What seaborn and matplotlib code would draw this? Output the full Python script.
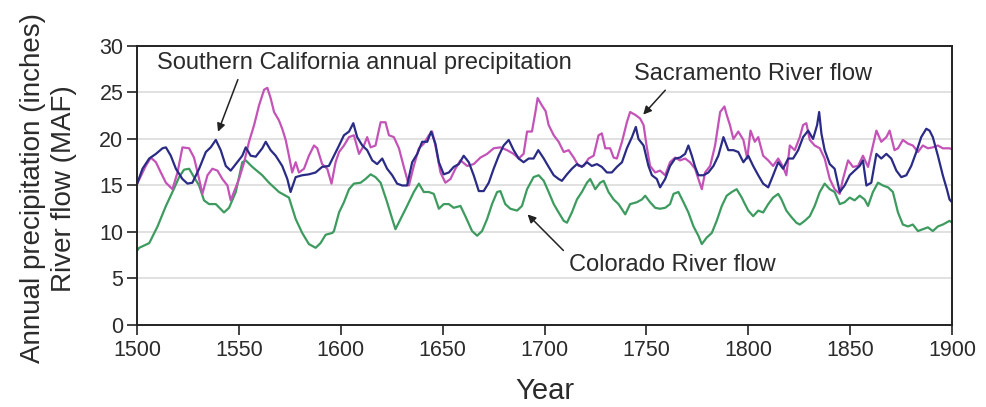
import matplotlib
matplotlib.use("Agg")
import matplotlib.pyplot as plt
import seaborn as sns
import pandas as pd

# Southern California annual precipitation (inches)
socal_years = [1500, 1502.6, 1505.9, 1509.2, 1512.4, 1514.1, 1516.5, 1519.0, 1522.2, 1524.7,
               1527.1, 1530.4, 1533.7, 1536.1, 1538.6, 1541.0, 1543.5, 1545.9, 1548.4, 1551.6,
               1553.3, 1555.7, 1558.2, 1561.4, 1563.1, 1565.5, 1568.0, 1571.2, 1573.7, 1575.3,
               1577.8, 1581.0, 1584.3, 1587.6, 1590.8, 1594.1, 1596.6, 1599.1, 1601.5, 1604.0,
               1606.1, 1608.0, 1610.5, 1612.9, 1615.4, 1617.8, 1620.3, 1622.7, 1625.2, 1627.6,
               1630.1, 1632.5, 1635.0, 1637.5, 1639.9, 1642.4, 1644.3, 1646.4, 1648.1, 1650.5,
               1653.0, 1655.4, 1657.9, 1660.3, 1662.8, 1665.2, 1667.7, 1670.1, 1672.6, 1675.0,
               1677.5, 1679.9, 1682.4, 1684.8, 1687.3, 1689.7, 1692.2, 1694.6, 1696.9, 1699.6,
               1702.0, 1704.5, 1706.9, 1708.5, 1711.0, 1713.4, 1715.9, 1718.3, 1720.8, 1723.2,
               1725.7, 1728.1, 1730.6, 1733.0, 1735.5, 1738.0, 1740.4, 1742.9, 1744.8, 1746.1,
               1748.6, 1751.0, 1752.7, 1755.1, 1756.7, 1759.2, 1761.6, 1764.1, 1766.5, 1769.0,
               1770.6, 1772.3, 1773.9, 1775.5, 1778.0, 1780.4, 1782.9, 1785.3, 1787.8, 1790.2,
               1792.7, 1795.1, 1797.6, 1800.0, 1802.4, 1804.9, 1807.3, 1809.8, 1812.2, 1814.7,
               1817.1, 1819.6, 1822.0, 1824.5, 1826.9, 1829.4, 1831.8, 1833.8, 1834.8, 1835.9,
               1837.5, 1840.0, 1842.4, 1844.9, 1847.3, 1849.8, 1852.2, 1854.7, 1856.3, 1858.0,
               1860.4, 1862.9, 1865.3, 1867.8, 1870.2, 1872.7, 1875.1, 1877.6, 1880.0, 1882.5,
               1884.9, 1887.4, 1889.0, 1890.6, 1893.1, 1895.5, 1897.5, 1898.8, 1900]
socal_vals = [15.2, 16.8, 17.9, 18.4, 19.0, 19.1, 18.2, 16.8, 15.7, 15.2,
              15.3, 16.8, 18.6, 19.1, 19.9, 18.8, 17.1, 16.6, 17.3, 18.2,
              19.1, 18.2, 18.1, 19.0, 19.7, 18.8, 18.2, 17.1, 15.7, 14.3,
              15.9, 16.1, 16.2, 16.4, 17.0, 17.1, 18.2, 19.3, 20.4, 20.8,
              21.7, 20.2, 19.3, 18.8, 17.7, 17.3, 17.9, 16.8, 16.1, 15.2,
              15.0, 15.0, 17.5, 18.4, 19.7, 19.7, 20.8, 19.5, 17.5, 16.2,
              16.4, 17.0, 17.3, 18.2, 17.5, 16.1, 14.4, 14.4, 15.3, 16.8,
              18.2, 19.3, 19.9, 18.8, 17.9, 17.5, 17.9, 17.9, 18.8, 17.9,
              17.0, 16.1, 15.7, 15.5, 16.2, 16.8, 17.3, 17.0, 17.5, 17.1,
              17.3, 17.0, 16.4, 16.4, 17.0, 17.5, 19.0, 20.2, 21.3, 20.0,
              19.3, 17.1, 16.1, 15.7, 14.8, 15.7, 17.1, 17.9, 18.0, 18.4,
              19.3, 18.2, 17.0, 16.1, 16.1, 16.4, 17.1, 18.2, 20.2, 18.8,
              18.8, 18.6, 17.5, 18.2, 17.1, 16.1, 15.2, 14.8, 16.1, 17.5,
              16.8, 17.9, 17.9, 18.8, 20.2, 20.9, 20.0, 21.5, 22.9, 20.6,
              18.8, 17.3, 16.8, 14.3, 15.0, 16.1, 16.6, 17.1, 17.7, 15.0,
              15.3, 18.4, 17.9, 18.4, 17.9, 16.6, 15.9, 16.1, 17.1, 18.6,
              20.2, 21.1, 20.9, 20.2, 18.2, 16.1, 14.6, 13.5, 13.2]

# Sacramento River flow (MAF)
sac_years = [1500, 1504.2, 1506.7, 1509.2, 1511.6, 1514.1, 1517.3, 1519.8, 1522.2, 1525.5,
             1527.9, 1530.4, 1532.0, 1534.5, 1536.9, 1539.4, 1541.8, 1544.3, 1545.9, 1547.5,
             1550.0, 1552.5, 1554.9, 1557.4, 1559.8, 1562.3, 1563.9, 1565.5, 1567.2, 1569.6,
             1571.2, 1572.9, 1574.5, 1576.1, 1577.8, 1579.4, 1581.9, 1584.3, 1586.8, 1588.4,
             1590.8, 1593.3, 1595.4, 1597.4, 1599.1, 1601.5, 1604.0, 1606.4, 1608.9, 1611.3,
             1612.9, 1614.6, 1617.0, 1619.5, 1621.9, 1623.6, 1626.0, 1628.5, 1630.9, 1633.4,
             1635.8, 1638.3, 1640.7, 1643.2, 1644.8, 1646.4, 1648.9, 1651.3, 1653.8, 1656.2,
             1658.7, 1662.0, 1665.2, 1668.5, 1671.8, 1675.0, 1678.3, 1681.6, 1684.8, 1687.3,
             1689.7, 1691.4, 1693.8, 1695.5, 1696.6, 1698.7, 1700.5, 1702.0, 1704.5, 1706.9,
             1709.4, 1711.8, 1714.3, 1716.7, 1719.2, 1721.6, 1724.1, 1726.5, 1728.1, 1729.8,
             1732.2, 1733.9, 1735.5, 1738.0, 1740.4, 1742.0, 1744.5, 1746.9, 1748.6, 1750.2,
             1751.8, 1754.3, 1756.7, 1759.2, 1761.6, 1764.1, 1766.5, 1769.0, 1771.4, 1773.9,
             1775.5, 1777.2, 1778.8, 1781.3, 1783.7, 1786.2, 1788.3, 1789.4, 1791.0, 1792.7,
             1795.1, 1797.6, 1799.5, 1801.1, 1803.2, 1804.9, 1807.3, 1809.8, 1812.2, 1814.7,
             1817.1, 1818.7, 1820.4, 1822.8, 1825.3, 1826.9, 1828.5, 1830.2, 1832.6, 1835.1,
             1837.5, 1840.0, 1842.4, 1844.9, 1846.5, 1849.0, 1851.4, 1853.9, 1856.3, 1858.8,
             1861.2, 1862.9, 1865.3, 1867.8, 1869.4, 1871.8, 1873.5, 1875.9, 1878.4, 1880.8,
             1883.3, 1885.7, 1888.2, 1890.6, 1893.1, 1895.5, 1898.8, 1900]
sac_vals = [15.2, 17.1, 18.0, 17.5, 16.4, 15.3, 14.6, 16.4, 19.1, 19.0,
            18.0, 15.7, 14.1, 16.1, 16.8, 16.6, 15.7, 15.0, 13.4, 14.3,
            15.7, 17.5, 19.7, 21.5, 23.6, 25.3, 25.5, 24.4, 22.9, 22.0,
            21.1, 19.9, 18.2, 16.4, 17.5, 16.4, 16.8, 18.2, 19.3, 19.0,
            17.3, 16.8, 15.2, 17.5, 18.6, 19.3, 20.2, 20.4, 18.4, 19.3,
            20.2, 19.1, 19.3, 21.8, 21.8, 20.4, 20.2, 19.0, 17.0, 15.0,
            17.1, 19.0, 19.5, 20.4, 20.8, 19.3, 16.4, 15.3, 15.7, 16.8,
            17.7, 17.1, 17.3, 18.0, 18.4, 19.0, 19.1, 18.8, 18.4, 17.9,
            18.4, 20.8, 20.8, 22.9, 24.4, 23.6, 23.0, 21.5, 20.4, 19.7,
            18.6, 18.8, 18.0, 17.1, 17.1, 17.9, 18.2, 20.4, 20.6, 19.0,
            19.0, 18.0, 17.9, 19.7, 21.8, 22.9, 22.6, 22.2, 21.5, 19.1,
            17.1, 16.4, 16.6, 16.1, 17.5, 18.0, 17.7, 17.9, 17.5, 16.8,
            15.7, 14.6, 16.4, 17.1, 19.3, 22.9, 23.5, 22.6, 21.5, 20.0,
            20.8, 19.9, 17.9, 20.9, 19.7, 20.2, 18.2, 17.7, 17.1, 17.9,
            17.0, 16.1, 19.3, 18.8, 20.2, 21.5, 21.7, 19.9, 19.3, 19.0,
            17.9, 15.7, 14.6, 14.1, 15.7, 17.7, 17.0, 17.1, 18.2, 17.0,
            19.3, 20.9, 19.7, 20.2, 20.9, 18.8, 19.0, 19.9, 19.5, 19.3,
            18.6, 19.3, 19.0, 19.1, 19.3, 19.0, 19.0, 18.9]

# Colorado River flow (MAF)
colo_years = [1500, 1501.0, 1505.9, 1510.0, 1514.1, 1517.3, 1520.6, 1523.0, 1525.5, 1527.9,
              1530.4, 1532.8, 1535.3, 1538.6, 1542.6, 1545.1, 1548.4, 1551.6, 1553.3, 1556.5,
              1561.4, 1564.7, 1569.6, 1574.5, 1577.8, 1581.0, 1584.3, 1587.6, 1590.0, 1592.5,
              1595.8, 1596.6, 1599.1, 1601.5, 1604.0, 1606.4, 1609.7, 1612.1, 1614.6, 1617.0,
              1619.5, 1622.7, 1625.2, 1626.8, 1629.3, 1632.5, 1635.8, 1638.3, 1640.7, 1643.2,
              1645.6, 1648.1, 1650.5, 1653.0, 1655.4, 1658.7, 1661.1, 1664.4, 1666.9, 1669.3,
              1671.8, 1674.2, 1676.7, 1678.3, 1680.7, 1683.2, 1686.5, 1688.9, 1691.4, 1694.6,
              1697.1, 1699.6, 1702.0, 1704.5, 1706.9, 1709.4, 1711.0, 1713.4, 1715.9, 1718.3,
              1720.8, 1722.4, 1724.9, 1727.3, 1729.0, 1731.4, 1733.9, 1736.3, 1739.6, 1742.0,
              1745.3, 1747.8, 1749.4, 1751.8, 1754.3, 1756.7, 1759.2, 1761.6, 1763.3, 1765.7,
              1768.2, 1770.6, 1773.1, 1775.5, 1777.2, 1779.6, 1782.1, 1784.5, 1787.0, 1789.4,
              1791.9, 1794.3, 1796.8, 1797.9, 1800.0, 1802.4, 1804.9, 1807.3, 1809.8, 1812.2,
              1814.7, 1816.3, 1818.7, 1821.2, 1823.6, 1825.3, 1827.7, 1830.2, 1832.6, 1835.1,
              1837.5, 1840.0, 1842.4, 1844.9, 1847.3, 1849.8, 1852.2, 1854.7, 1857.1, 1858.8,
              1861.2, 1863.7, 1866.1, 1868.6, 1871.0, 1873.5, 1875.9, 1878.4, 1880.8, 1883.3,
              1885.7, 1888.2, 1890.6, 1893.1, 1895.5, 1898.8, 1900]
colo_vals = [8.0, 8.3, 8.8, 10.6, 12.8, 14.3, 15.9, 16.7, 16.8, 15.9,
             15.0, 13.4, 13.0, 13.0, 12.1, 12.6, 14.3, 17.5, 17.7, 17.0,
             16.1, 15.3, 14.3, 13.7, 11.4, 9.9, 8.7, 8.3, 8.8, 9.7,
             9.9, 10.1, 12.1, 13.2, 14.6, 15.2, 15.3, 15.7, 16.2, 15.9,
             15.3, 13.2, 11.4, 10.3, 11.4, 12.8, 14.3, 15.2, 14.3, 14.3,
             14.1, 12.5, 13.0, 13.0, 12.6, 12.8, 11.7, 10.1, 9.6, 10.1,
             11.4, 13.0, 14.3, 14.4, 13.0, 12.5, 12.3, 12.8, 14.6, 15.9,
             16.1, 15.5, 14.3, 13.0, 12.1, 11.2, 11.0, 12.1, 13.5, 14.3,
             15.3, 15.7, 14.6, 15.3, 15.5, 14.3, 13.5, 13.0, 11.9, 13.0,
             13.2, 13.5, 13.9, 13.2, 12.6, 12.5, 12.6, 13.0, 14.1, 14.3,
             13.2, 12.1, 10.6, 9.6, 8.7, 9.4, 9.9, 11.2, 12.8, 13.9,
             14.3, 14.6, 13.7, 13.2, 12.3, 11.7, 12.3, 12.1, 13.0, 13.7,
             14.1, 13.5, 12.3, 11.6, 11.0, 10.8, 11.2, 11.7, 12.8, 14.3,
             15.2, 14.6, 14.3, 13.0, 13.2, 13.7, 13.4, 13.9, 13.5, 12.8,
             14.3, 15.3, 15.0, 14.8, 14.3, 12.1, 10.8, 10.6, 10.8, 10.1,
             10.3, 10.5, 10.1, 10.6, 10.8, 11.2, 11.0]

series_names = ["Southern California annual precipitation", "Sacramento River flow", "Colorado River flow"]
series_colors = ["#2a2b85", "#c453b8", "#3d9b5f"]

y_ticks = [0, 5, 10, 15, 20, 25, 30]
x_ticks = [1500, 1550, 1600, 1650, 1700, 1750, 1800, 1850, 1900]

frames = []
for name, yrs, vals in zip(series_names,
                           [socal_years, sac_years, colo_years],
                           [socal_vals, sac_vals, colo_vals]):
    frames.append(pd.DataFrame({"year": yrs, "value": vals, "series": name}))
df = pd.concat(frames, ignore_index=True)

sns.set_style("white")
plt.rcParams["font.family"] = ["Liberation Sans", "DejaVu Sans"]
text_color = "#2b2b2b"

fig = plt.figure(figsize=(9.87, 4.07), dpi=100)
ax = fig.add_axes([0.139, 0.2015, 0.8255, 0.6855])

# green at the bottom, then pink, navy on top
for name, color in [(series_names[2], series_colors[2]),
                    (series_names[1], series_colors[1]),
                    (series_names[0], series_colors[0])]:
    sns.lineplot(data=df[df["series"] == name], x="year", y="value",
                 color=color, linewidth=1.6, ax=ax, legend=False,
                 sort=False, estimator=None)

ax.set_xlim(1500, 1900)
ax.set_ylim(0, 30)
ax.set_xticks(x_ticks)
ax.set_yticks(y_ticks)
ax.yaxis.grid(True, color="#dcdcdc", linewidth=1.2)
ax.set_axisbelow(True)
for side in ["top", "right", "left", "bottom"]:
    ax.spines[side].set_visible(True)
    ax.spines[side].set_color("#222222")
    ax.spines[side].set_linewidth(1.4)
ax.tick_params(axis="both", direction="out", length=7, width=1.2, color="#222222",
               labelsize=15.5, labelcolor=text_color, left=True, bottom=True)
ax.tick_params(axis="x", pad=4)
ax.tick_params(axis="y", pad=3)

ax.set_xlabel("Year", fontsize=21, color=text_color)
ax.xaxis.set_label_coords(0.5, -0.185)
ax.set_ylabel("Annual precipitation (inches)\nRiver flow (MAF)", fontsize=20,
              color=text_color, linespacing=1.25)
ax.yaxis.set_label_coords(-0.074, 0.49)

arrow = dict(arrowstyle="-|>", color="#222222", lw=1.1, mutation_scale=12)
ax.annotate("Southern California annual precipitation", xy=(1539.2, 20.5), xytext=(1509.8, 28.2),
            fontsize=17, color=text_color, va="center", ha="left",
            arrowprops=dict(arrow, relpos=(0.2, 0.0)))
ax.annotate("Sacramento River flow", xy=(1747.5, 22.4), xytext=(1744.1, 27.0),
            fontsize=17, color=text_color, va="center", ha="left",
            arrowprops=dict(arrow, relpos=(0.15, 0.0)))
ax.annotate("Colorado River flow", xy=(1690.7, 12.1), xytext=(1711.8, 6.5),
            fontsize=17, color=text_color, va="center", ha="left",
            arrowprops=dict(arrow, relpos=(0.0, 0.9)))

fig.savefig("out.png", dpi=100)
